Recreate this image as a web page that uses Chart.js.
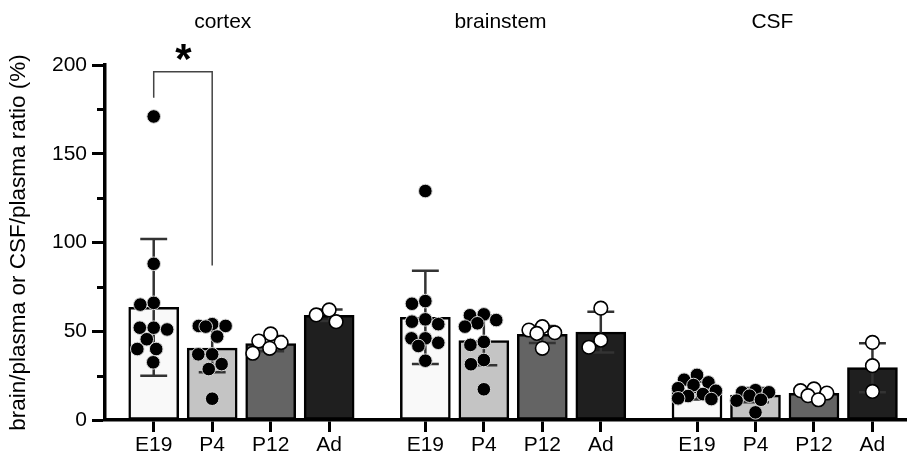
<!DOCTYPE html>
<html>
<head>
<meta charset="utf-8">
<script src="https://cdn.jsdelivr.net/npm/chart.js@4.4.1/dist/chart.umd.min.js"></script>
<style>
  html, body { margin: 0; padding: 0; background: #fff; }
  #wrap { width: 915px; height: 461px; position: relative; }
</style>
</head>
<body>
<div id="wrap"><canvas id="ratioChart"></canvas></div>
<script>
const regions = ['cortex', 'brainstem', 'CSF'];
const stages = ['E19', 'P4', 'P12', 'Ad'];
const yTicks = [0, 50, 100, 150, 200];
const yMinorTicks = [25, 75, 125, 175];

// bar height = mean, error bar = SD
const meanCortex = [63.5, 40.5, 43, 59];
const sdCortex = [38.5, 13.6, 4.3, 3.2];
const meanBrainstem = [57.8, 44.8, 48.2, 49.5];
const sdBrainstem = [26.3, 14, 4.8, 11.5];
const meanCSF = [16.5, 14, 15, 29.5];
const sdCSF = [5, 4, 2.4, 13.8];

// single animals
const dotsCortex = [
    [171, 88, 66, 65, 52, 52, 51, 45.5, 40, 40, 32.5],
    [54, 53, 53, 52.6, 47, 37, 37, 31.5, 28.7, 12],
    [48.5, 44.5, 43.6, 40.4, 37.6],
    [62, 59.2, 55.4]
];
const dotsBrainstem = [
    [129, 67, 65.5, 56.7, 55.4, 54, 46, 46, 43.5, 41.7, 33.4],
    [59.5, 59, 56.3, 54.5, 52.6, 44, 42.3, 33.8, 31.4, 17.3],
    [52.6, 50.7, 49.2, 48.8, 40.4],
    [63, 45, 41]
];
const dotsCSF = [
    [25.4, 22.7, 21.2, 19.7, 17.9, 16.5, 14.6, 13.5, 12.2, 11.8],
    [16.8, 15.6, 15.6, 13.7, 11.4, 10.9, 4.3],
    [17.5, 16.5, 15.2, 13.7, 11.4],
    [43.7, 30.6, 16.1]
];

// significance: cortex E19 vs P4
const sigPair = [0, 1];
const sigLabel = '*';

const means = [meanCortex, meanBrainstem, meanCSF];
const sds = [sdCortex, sdBrainstem, sdCSF];
const dots = [dotsCortex, dotsBrainstem, dotsCSF];

const groupStep = 4.645;
const barFill = ['#f9f9f9', '#c4c4c4', '#646464', '#1f1f1f'];
const dotFill = ['#000000', '#000000', '#ffffff', '#ffffff'];
const capHalf = 0.23;

function barX(g, i) {
    return g * groupStep + i;
}

const tickPos = [];
const barData = [];
const barColors = [];
const errData = [];
regions.forEach((r, g) => {
    stages.forEach((s, i) => {
        const x = barX(g, i);
        const m = means[g][i], sd = sds[g][i];
        tickPos.push(x);
        barData.push({x: x, y: m});
        barColors.push(barFill[i]);
        errData.push({x: x, y: m - sd}, {x: x, y: m + sd}, {x: x, y: null});
        errData.push({x: x - capHalf, y: m + sd}, {x: x + capHalf, y: m + sd}, {x: x, y: null});
        errData.push({x: x - capHalf, y: m - sd}, {x: x + capHalf, y: m - sd}, {x: x, y: null});
    });
});

const sigLeft = barX(0, sigPair[0]), sigRight = barX(0, sigPair[1]);
const bracketData = [
    {x: sigLeft, y: 181.6}, {x: sigLeft, y: 196.2},
    {x: sigRight, y: 196.2}, {x: sigRight, y: 87}
];

const font = "'Liberation Sans', Arial, Helvetica, sans-serif";

const extras = {
    id: 'extras',
    afterDraw(chart) {
        const ctx = chart.ctx;
        const xs = chart.scales.x, ys = chart.scales.y;
        const left = chart.chartArea.left;
        ctx.save();
        // minor ticks on y
        ctx.strokeStyle = '#000';
        ctx.lineWidth = 3;
        yMinorTicks.forEach(v => {
            const py = Math.round(ys.getPixelForValue(v)) + 0.5;
            ctx.beginPath();
            ctx.moveTo(left, py);
            ctx.lineTo(left - 8, py);
            ctx.stroke();
        });
        // region titles
        const titleX = [1.18, 5.93, 10.58];
        ctx.fillStyle = '#000';
        ctx.font = '21px ' + font;
        ctx.textAlign = 'center';
        ctx.textBaseline = 'alphabetic';
        regions.forEach((r, g) => {
            ctx.fillText(r, xs.getPixelForValue(titleX[g]), 28);
        });
        // asterisk
        ctx.font = 'bold 42px ' + font;
        ctx.fillText(sigLabel, xs.getPixelForValue((sigLeft + sigRight) / 2 + 0.01), ys.getPixelForValue(196.2) + 1);
        ctx.restore();
    }
};

const chart = new Chart(document.getElementById('ratioChart'), {
    type: 'bar',
    data: {
        datasets: [
            {
                type: 'scatter', label: 'dots', data: [], order: 0,
                pointRadius: 6.8, pointHoverRadius: 6.8,
                pointBackgroundColor: [], pointBorderColor: [], pointBorderWidth: []
            },
            {
                type: 'line', label: 'sd', data: errData, order: 1,
                borderColor: '#333333', borderWidth: 2.5, pointRadius: 0,
                spanGaps: false, tension: 0
            },
            {
                type: 'line', label: 'sig', data: bracketData, order: 1,
                borderColor: '#444444', borderWidth: 1.5, pointRadius: 0,
                clip: false, tension: 0
            },
            {
                type: 'bar', label: 'mean', data: barData, order: 2,
                backgroundColor: barColors, borderColor: '#000', borderWidth: 2.5,
                borderSkipped: false, barThickness: 50
            }
        ]
    },
    options: {
        responsive: true,
        maintainAspectRatio: false,
        animation: false,
        layout: { padding: { top: 65, right: 3, left: 0, bottom: 0 } },
        plugins: { legend: { display: false }, tooltip: { enabled: false } },
        scales: {
            x: {
                type: 'linear',
                min: -0.833,
                max: 12.874,
                offset: false,
                afterBuildTicks: scale => { scale.ticks = tickPos.map(v => ({value: v})); },
                afterFit: scale => { scale.height = 41; },
                grid: { display: true, drawOnChartArea: false, offset: false, tickLength: 12, tickWidth: 3, tickColor: '#000' },
                border: { display: true, color: '#000', width: 3.5 },
                ticks: {
                    autoSkip: false, maxRotation: 0, padding: 1,
                    color: '#000', font: { family: font, size: 21 },
                    callback: (v, i) => stages[i % stages.length]
                }
            },
            y: {
                min: 0,
                max: 200,
                afterBuildTicks: scale => { scale.ticks = yTicks.map(v => ({value: v})); },
                afterFit: scale => { scale.width = 105; },
                grid: { display: true, drawOnChartArea: false, tickLength: 13, tickWidth: 3, tickColor: '#000' },
                border: { display: true, color: '#000', width: 3.5 },
                ticks: { padding: 5, color: '#000', font: { family: font, size: 21 } },
                title: {
                    display: true,
                    text: 'brain/plasma or CSF/plasma ratio (%)',
                    color: '#000',
                    font: { family: font, size: 22.5 },
                    padding: { top: 5, bottom: 0 }
                }
            }
        }
    },
    plugins: [extras]
});

// lay the dots out as a swarm inside each bar
function swarm(vals, yScale, r, maxOff) {
    const d = 2 * r;
    const placed = [];
    const out = new Array(vals.length);
    const order = vals.map((v, i) => i).sort((a, b) => vals[b] - vals[a]);
    order.forEach(i => {
        const py = yScale.getPixelForValue(vals[i]);
        let best = 0, bestScore = -Infinity, done = false;
        for (let s = 0; s <= maxOff && !done; s += 0.5) {
            const offs = s === 0 ? [0] : [-s, s];
            for (const off of offs) {
                let minD = Infinity;
                placed.forEach(p => {
                    const dd = Math.hypot(p.x - off, p.y - py);
                    if (dd < minD) minD = dd;
                });
                if (minD >= d) { best = off; done = true; break; }
                if (minD > bestScore) { bestScore = minD; best = off; }
            }
        }
        placed.push({x: best, y: py});
        out[i] = best;
    });
    return out;
}

const xs = chart.scales.x, ys = chart.scales.y;
const pxPerUnit = xs.getPixelForValue(1) - xs.getPixelForValue(0);
const dotDs = chart.data.datasets[0];
regions.forEach((r, g) => {
    stages.forEach((s, i) => {
        const vals = dots[g][i];
        const offs = swarm(vals, ys, 6.8, 19);
        vals.forEach((v, k) => {
            dotDs.data.push({x: barX(g, i) + offs[k] / pxPerUnit, y: v});
            dotDs.pointBackgroundColor.push(dotFill[i]);
            dotDs.pointBorderColor.push(dotFill[i] === '#000000' ? '#d8d8d8' : '#000000');
            dotDs.pointBorderWidth.push(dotFill[i] === '#000000' ? 1 : 1.6);
        });
    });
});
chart.update('none');
</script>
</body>
</html>
